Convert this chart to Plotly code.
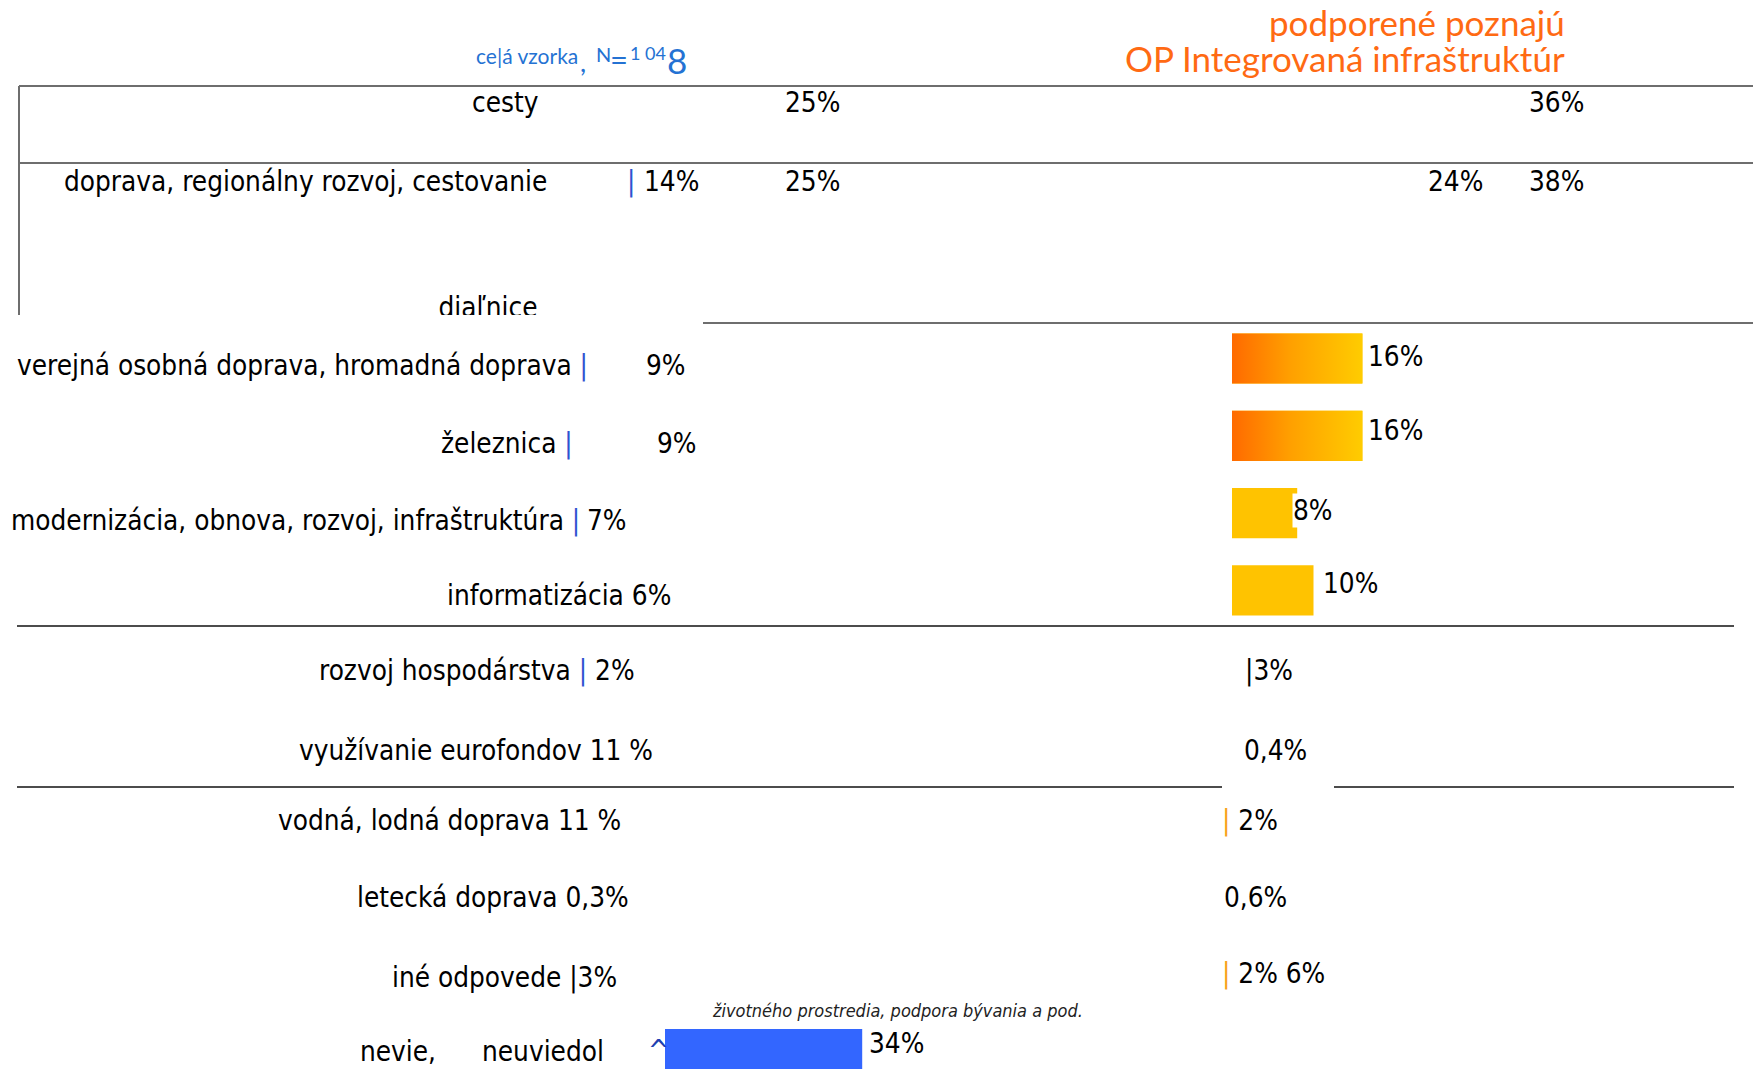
import plotly.graph_objects as go

W, H = 1753, 1069          # reference canvas

# ---------------- data ----------------
top_categories = ["cesty", "doprava, regionálny rozvoj, cestovanie", "diaľnice"]
top_whole = ["25%", "14%", "25%"]
top_oppii = ["36%", "24%", "38%"]

categories = [
    "verejná osobná doprava, hromadná doprava",
    "železnica",
    "modernizácia, obnova, rozvoj, infraštruktúra",
    "informatizácia",
    "rozvoj hospodárstva",
    "využívanie eurofondov",
    "vodná, lodná doprava",
    "letecká doprava",
    "iné odpovede",
    "nevie, neuviedol",
]
whole_sample_labels = ["9%", "9%", "7%", "6%", "2%", "11 %", "11 %", "0,3%", "|3%", "34%"]
oppii_labels = ["16%", "16%", "8%", "10%", "|3%", "0,4%", "2%", "0,6%", "2% 6%", ""]

# bars visible in the chart
gradient_rows = ["verejná osobná doprava, hromadná doprava", "železnica"]
gradient_values = [16, 16]
yellow_rows = ["modernizácia, obnova, rozvoj, infraštruktúra", "informatizácia"]
yellow_values = [8, 10]
blue_rows = ["nevie, neuviedol"]
blue_values = [34]

title_left = "ce|á vzorka"
title_n = ["N", "=", "1 04", "8"]
title_right = ["podporené poznajú", "OP Integrovaná infraštruktúr"]
note_text = "životného prostredia, podpora bývania a pod."

# ---------------- styles ----------------
NARROW = "DejaVu Sans Condensed, Liberation Sans Narrow, Arial Narrow, sans-serif"
FS = 27.7
LATO = "Lato, Open Sans, sans-serif"
BLUE_BAR = "#3366FF"
BLUE_TICK = "#2F52D0"
BLUE_TITLE = "#2472D3"
ORANGE = "#FF6A13"
YELLOW = "#FFC300"
ORANGE_TICK = "#F7A21B"
BAR_W = 0.65


def px(x):
    return x / W


def py(y):
    return 1 - y / H


idx = {c: i for i, c in enumerate(categories)}

fig = go.Figure()

# right panel bars (xaxis 'x')
fig.add_trace(go.Bar(
    x=gradient_values, y=[idx[r] for r in gradient_rows], orientation="h",
    width=BAR_W, marker=dict(color=YELLOW, line=dict(width=0)),
    xaxis="x", yaxis="y", showlegend=False, hoverinfo="skip"))
for r, v in zip(gradient_rows, gradient_values):
    i = idx[r]
    fig.add_trace(go.Scatter(
        x=[0, v, v, 0, 0],
        y=[i - BAR_W / 2, i - BAR_W / 2, i + BAR_W / 2, i + BAR_W / 2, i - BAR_W / 2],
        mode="lines", fill="toself", line=dict(width=0),
        fillgradient=dict(type="horizontal",
                          colorscale=[[0, "#FF6A00"], [0.45, "#FFA000"], [1, "#FFCC00"]]),
        xaxis="x", yaxis="y", showlegend=False, hoverinfo="skip"))
fig.add_trace(go.Bar(
    x=yellow_values, y=[idx[r] for r in yellow_rows], orientation="h",
    width=BAR_W, marker=dict(color=YELLOW, line=dict(width=0)),
    xaxis="x", yaxis="y", showlegend=False, hoverinfo="skip"))
# left panel bar (xaxis 'x2')
fig.add_trace(go.Bar(
    x=blue_values, y=[idx[r] for r in blue_rows], orientation="h",
    width=BAR_W, marker=dict(color=BLUE_BAR, line=dict(width=0)),
    xaxis="x2", yaxis="y", showlegend=False, hoverinfo="skip"))

# label "diaľnice" drawn as trace text so a white box can cut it off
fig.add_trace(go.Scatter(
    x=[488], y=[310], mode="text", text=[top_categories[2]],
    textposition="middle center",
    textfont=dict(family=NARROW, size=FS, color="black"),
    xaxis="x3", yaxis="y3", showlegend=False, hoverinfo="skip"))

# ---------------- annotations ----------------
ann = []


def a(text, x, y, anchor="left", size=FS, color="black", family=NARROW, **kw):
    ann.append(dict(xref="paper", yref="paper", x=px(x), y=py(y),
                    xanchor=anchor, yanchor="middle", showarrow=False, text=text,
                    font=dict(family=family, size=size, color=color), **kw))


def tick(col):
    return f"<span style='color:{col}'>|</span>"


# header
a(title_left, 474, 55, size=21, color=BLUE_TITLE, family=LATO)
a(",", 578, 61, size=27, color=BLUE_TITLE, family=LATO)
a(title_n[0], 594, 54, size=20, color=BLUE_TITLE, family=LATO)
a(title_n[1], 608, 59, size=31, color=BLUE_TITLE, family=LATO)
a(title_n[2], 628, 53, size=18, color=BLUE_TITLE, family=LATO)
a(title_n[3], 665, 60, size=35, color=BLUE_TITLE, family=LATO)
a(title_right[0], 1566, 22, anchor="right", size=35, color=ORANGE, family=LATO, borderpad=0)
a(title_right[1], 1566, 58, anchor="right", size=35, color=ORANGE, family=LATO, borderpad=0)

# top rows
a(top_categories[0], 470, 103)
a(top_whole[0], 783, 103)
a(top_oppii[0], 1527, 103)
a(top_categories[1], 62, 182)
a(tick(BLUE_TICK), 631, 182, anchor="center")
a(top_whole[1], 642, 182)
a(top_whole[2], 783, 182)
a(top_oppii[1], 1426, 182)
a(top_oppii[2], 1527, 182)

# bottom rows: whole sample (celá vzorka)
a(categories[0] + " " + tick(BLUE_TICK), 590, 365, anchor="right")
a(whole_sample_labels[0], 644, 365)
a(categories[1] + " " + tick(BLUE_TICK), 575, 443, anchor="right")
a(whole_sample_labels[1], 655, 443)
a(categories[2] + " " + tick(BLUE_TICK), 582, 520, anchor="right")
a(whole_sample_labels[2], 585, 520)
a(categories[3] + " " + whole_sample_labels[3], 445, 595)
a(categories[4] + " " + tick(BLUE_TICK) + " " + whole_sample_labels[4], 317, 670)
a(categories[5] + " " + whole_sample_labels[5], 297, 750)
a(categories[6] + " " + whole_sample_labels[6], 276, 820)
a(categories[7] + " " + whole_sample_labels[7], 355, 897)
a(categories[8] + " " + whole_sample_labels[8], 390, 977)
a(categories[9].split()[0], 358, 1051)
a(categories[9].split()[1], 480, 1051)
a("^", 658, 1050, anchor="center", size=28, color="#2040B0")
a(whole_sample_labels[9], 867, 1043)
a("<i>" + note_text + "</i>", 710, 1010, size=18, color="#222222")

# right panel labels (OP II)
a(oppii_labels[0], 1366, 357)
a(oppii_labels[1], 1366, 430)
a(oppii_labels[2], 1292, 510, bgcolor="white", borderpad=0)
a(oppii_labels[3], 1321, 583)
a(oppii_labels[4], 1243, 670)
a(oppii_labels[5], 1242, 750)
a(tick(ORANGE_TICK) + " " + oppii_labels[6], 1220, 820)
a(oppii_labels[7], 1222, 897)
a(tick(ORANGE_TICK) + " " + oppii_labels[8], 1220, 973)

# ---------------- lines ----------------
shapes = []


def line(x0, y0, x1, y1, color="#6E6E6E", width=2):
    shapes.append(dict(type="line", xref="paper", yref="paper",
                       x0=px(x0), x1=px(x1), y0=py(y0), y1=py(y1),
                       line=dict(color=color, width=width), layer="below"))


line(19, 86, W, 86)
line(19, 163, W, 163)
line(19, 86, 19, 315)
line(703, 323, W, 323)
line(17, 626, 1734, 626, color="#111111", width=1.6)
line(17, 787, 1222, 787, color="#111111", width=1.6)
line(1334, 787, 1734, 787, color="#111111", width=1.6)
# white box that cuts off the lower part of "diaľnice"
shapes.append(dict(type="rect", xref="paper", yref="paper",
                   x0=px(410), x1=px(580), y0=py(315), y1=py(334),
                   fillcolor="white", line=dict(width=0), layer="above"))

# ---------------- axes ----------------
PX_R, ORIG_R = 8.15, 1232   # right panel: pixels per %, origin pixel
PX_L, ORIG_L = 5.8, 665     # left panel
ROW0, ROW_STEP = 358.5, 77.3

hidden = dict(visible=False, showgrid=False, zeroline=False, fixedrange=True)
fig.update_layout(
    width=W, height=H,
    margin=dict(l=0, r=0, t=0, b=0, autoexpand=False),
    paper_bgcolor="white", plot_bgcolor="rgba(0,0,0,0)",
    barmode="overlay",
    xaxis=dict(domain=[0, 1], range=[-ORIG_R / PX_R, (W - ORIG_R) / PX_R], **hidden),
    xaxis2=dict(domain=[0, 1], overlaying="x", range=[-ORIG_L / PX_L, (W - ORIG_L) / PX_L], **hidden),
    yaxis=dict(domain=[0, 1], range=[(H - ROW0) / ROW_STEP, -ROW0 / ROW_STEP], **hidden),
    xaxis3=dict(domain=[0, 1], range=[0, W], anchor="y3", **hidden),
    yaxis3=dict(domain=[0, 1], range=[H, 0], anchor="x3", **hidden),
    annotations=ann, shapes=shapes,
    showlegend=False,
)

fig.write_html(
    "out.html",
    config={"displayModeBar": False, "staticPlot": True},
    post_script="document.body.style.margin='0';document.body.style.overflow='hidden';",
)
